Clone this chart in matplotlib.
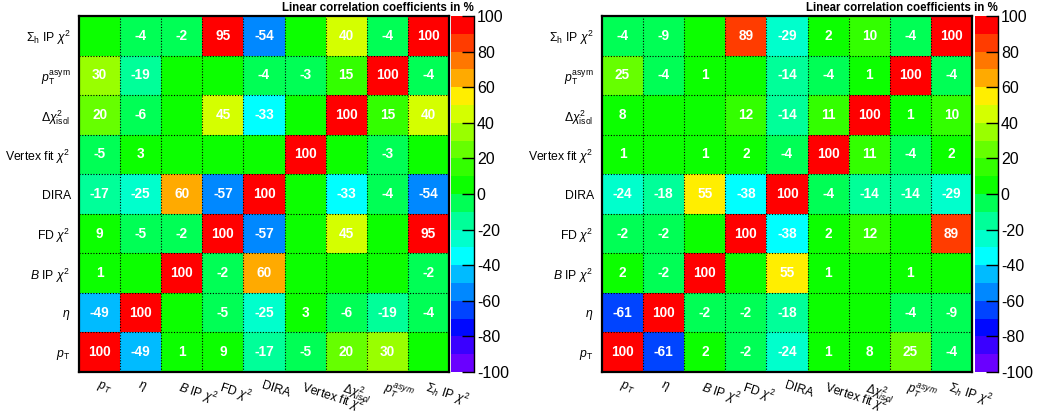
import numpy as np
import matplotlib
matplotlib.use('Agg')
import matplotlib.pyplot as plt
from matplotlib.colors import ListedColormap, BoundaryNorm

plt.rcParams['font.family'] = ['Liberation Sans', 'DejaVu Sans']
plt.rcParams['mathtext.fontset'] = 'custom'
plt.rcParams['mathtext.rm'] = 'Liberation Sans'
plt.rcParams['mathtext.it'] = 'Liberation Sans:italic'
plt.rcParams['mathtext.bf'] = 'Liberation Sans:bold'
plt.rcParams['axes.unicode_minus'] = False

# variable names (index 0 = bottom row / left column)
row_labels = [r'$p_{\mathrm{T}}$', r'$\eta$', r'$B$ IP $\chi^2$', r'FD $\chi^2$', 'DIRA',
              r'Vertex fit $\chi^2$', r'$\Delta\chi^2_{\mathrm{isol}}$',
              r'$p_{\mathrm{T}}^{\mathrm{asym}}$', r'$\Sigma_{\mathrm{h}}$ IP $\chi^2$']
col_labels = [r'$p_T$', r'$\eta$', r'$B$ IP $\chi^2$', r'FD $\chi^2$', 'DIRA',
              r'Vertex fit $\chi^2$', r'$\Delta\chi^2_{isol}$',
              r'$p_T^{asym}$', r'$\Sigma_h$ IP $\chi^2$']

# correlation matrices in %, rows from bottom (pT) to top (Sigma_h IP chi2)
corr_left = [
    [100, -49, 1, 9, -17, -5, 20, 30, 0],
    [-49, 100, 0, -5, -25, 3, -6, -19, -4],
    [1, 0, 100, -2, 60, 0, 0, 0, -2],
    [9, -5, -2, 100, -57, 0, 45, 0, 95],
    [-17, -25, 60, -57, 100, 0, -33, -4, -54],
    [-5, 3, 0, 0, 0, 100, 0, -3, 0],
    [20, -6, 0, 45, -33, 0, 100, 15, 40],
    [30, -19, 0, 0, -4, -3, 15, 100, -4],
    [0, -4, -2, 95, -54, 0, 40, -4, 100],
]
corr_right = [
    [100, -61, 2, -2, -24, 1, 8, 25, -4],
    [-61, 100, -2, -2, -18, 0, 0, -4, -9],
    [2, -2, 100, 0, 55, 1, 0, 1, 0],
    [-2, -2, 0, 100, -38, 2, 12, 0, 89],
    [-24, -18, 55, -38, 100, -4, -14, -14, -29],
    [1, 0, 1, 2, -4, 100, 11, -4, 2],
    [8, 0, 0, 12, -14, 11, 100, 1, 10],
    [25, -4, 1, 0, -14, -4, 1, 100, -4],
    [-4, -9, 0, 89, -29, 2, 10, -4, 100],
]

colorbar_ticks = [-100, -80, -60, -40, -20, 0, 20, 40, 60, 80, 100]
title = 'Linear correlation coefficients in %'

palette = ['#6a00ff', '#3a00ff', '#0008ff', '#0044ff', '#0088ff', '#00bbff',
           '#00ffff', '#00ffcc', '#00ff99', '#00ff55', '#0cff00', '#33ff00',
           '#66ff00', '#99ff00', '#d4ff00', '#ffee00', '#ffaa00', '#ff7700',
           '#ff3c00', '#ff0000']
cmap = ListedColormap(palette)
norm = BoundaryNorm(np.linspace(-100, 100, 21), cmap.N, clip=True)

W, H = 1042, 416
fig = plt.figure(figsize=(W / 100, H / 100), dpi=100)


def panel(x0, x1, cx0, cx1, data):
    data = np.array(data)
    n = data.shape[0]
    ax = fig.add_axes([x0 / W, 1 - 372 / H, (x1 - x0) / W, (372 - 16) / H])
    edges = np.arange(n + 1)
    mesh = ax.pcolormesh(edges, edges, data, cmap=cmap, norm=norm)
    for k in range(1, n):
        ax.axvline(k, color='k', lw=0.8, ls=(0, (1, 1.5)))
        ax.axhline(k, color='k', lw=0.8, ls=(0, (1, 1.5)))
    for i in range(n):
        for j in range(n):
            v = data[i, j]
            if v != 0:
                ax.text(j + 0.5, i + 0.5, str(v), color='white', fontweight='bold',
                        fontsize=9.8, ha='center', va='center')
    ax.set_xlim(0, n)
    ax.set_ylim(0, n)
    ax.set_yticks(np.arange(n) + 0.5)
    ax.set_yticklabels(row_labels, fontsize=8.8)
    ax.set_xticks(np.arange(n) + 0.5)
    ax.set_xticklabels(col_labels, fontsize=8.8, rotation=-18, ha='left', va='top',
                       rotation_mode='anchor')
    ax.tick_params(axis='both', length=0)
    ax.tick_params(axis='y', pad=6)
    ax.tick_params(axis='x', pad=5)
    for s in ax.spines.values():
        s.set_linewidth(1.6)

    cax = fig.add_axes([cx0 / W, 1 - 372 / H, (cx1 - cx0) / W, (372 - 16) / H])
    cb = fig.colorbar(mesh, cax=cax, ticks=colorbar_ticks)
    cb.outline.set_visible(False)
    cax.minorticks_off()
    cax.yaxis.set_minor_locator(matplotlib.ticker.NullLocator())
    cax.tick_params(which='major', direction='in', length=9, width=1, labelsize=11.5, pad=2)
    cax.plot([1, 1], [0, 1], transform=cax.transAxes, color='k', lw=1, clip_on=False)
    fig.text(cx1 / W, 1 - 8 / H, title, ha='right', va='center',
             fontweight='bold', fontsize=8.3)


panel(79, 449, 451, 474, corr_left)
panel(602, 972, 975, 998, corr_right)

fig.savefig('out.png', dpi=100)
